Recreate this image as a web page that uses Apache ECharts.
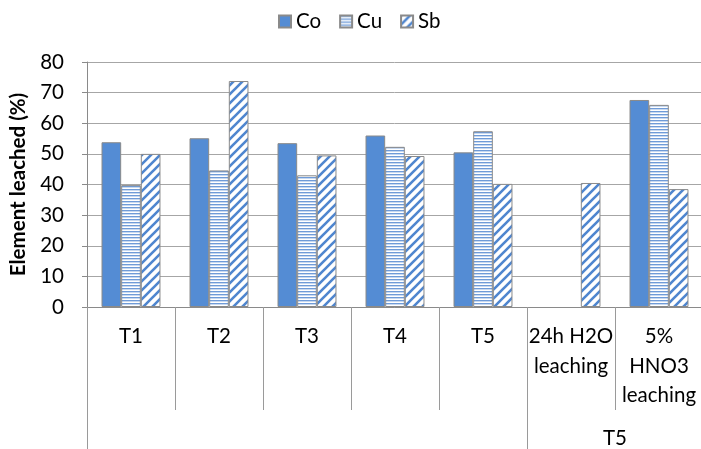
<!DOCTYPE html>
<html>
<head>
<meta charset="utf-8">
<script src="https://cdn.jsdelivr.net/npm/echarts@6/dist/echarts.min.js"></script>
<style>
  html, body { margin: 0; padding: 0; background: #fff; }
  #chart { width: 701px; height: 449px; }
</style>
</head>
<body>
<div id="chart"></div>
<script>
// Leaching experiments: percentage of each element leached
const categories = ['T1', 'T2', 'T3', 'T4', 'T5', '24h H2O\nleaching', '5%\nHNO3\nleaching'];
const coValues = [53.8, 55.1, 53.5, 56.0, 50.5, null, 67.6];
const cuValues = [39.8, 44.6, 43.0, 52.3, 57.4, null, 66.0];
const sbValues = [50.0, 73.8, 49.5, 49.3, 40.2, 40.5, 38.5];
const yTicks = [0, 10, 20, 30, 40, 50, 60, 70, 80];
// second-level grouping: label sits under the middle of the last two categories
const groupLabel = 'T5';
const groupBoundaries = [0, 5];
const groupLabelPos = [6];

const FONT = 'Lato, "Open Sans", sans-serif';
const FS = 20.5;
const BLUE = '#548cd4';
const BORDER = '#8a8a8a';

// horizontal pin-stripe fill
function horizontalStripes() {
  const c = document.createElement('canvas');
  c.width = 4; c.height = 3;
  const g = c.getContext('2d');
  g.fillStyle = '#ffffff'; g.fillRect(0, 0, 4, 3);
  g.fillStyle = '#6f9bd8'; g.fillRect(0, 0, 4, 1);
  g.fillStyle = '#c8d9f0'; g.fillRect(0, 1, 4, 1);
  return c;
}
// wide upward diagonal fill
function diagonalStripes() {
  const s = 9;
  const c = document.createElement('canvas');
  c.width = s; c.height = s;
  const g = c.getContext('2d');
  g.fillStyle = '#ffffff'; g.fillRect(0, 0, s, s);
  g.strokeStyle = '#4f86cf';
  g.lineWidth = 2.6;
  g.beginPath();
  g.moveTo(-1, s + 1); g.lineTo(s + 1, -1);
  g.moveTo(-s / 2 - 1, s / 2 + 1); g.lineTo(s / 2 + 1, -s / 2 - 1);
  g.moveTo(s / 2 - 1, s * 1.5 + 1); g.lineTo(s * 1.5 + 1, s / 2 - 1);
  g.stroke();
  return c;
}

const chart = echarts.init(document.getElementById('chart'), null, { renderer: 'canvas' });

const barStyle = (color) => ({ color: color, borderColor: BORDER, borderWidth: 1 });

chart.setOption({
  animation: false,
  textStyle: { fontFamily: FONT, color: '#000' },
  legend: {
    top: 6,
    left: 273,
    icon: 'rect',
    itemWidth: 12,
    itemHeight: 12,
    itemGap: 18,
    textStyle: { fontSize: FS, fontFamily: FONT, color: '#000' },
    data: ['Co', 'Cu', 'Sb']
  },
  grid: {
    left: 87, right: -2, top: 62, bottom: 142,
    containLabel: false,
    outerBoundsMode: 'none'
  },
  xAxis: [
    {
      type: 'category',
      data: categories,
      axisLine: { show: true, lineStyle: { color: BORDER, width: 1 } },
      axisTick: { show: true, interval: 0, length: 103, lineStyle: { color: '#9a9a9a', width: 1 } },
      axisLabel: {
        interval: 0,
        fontSize: FS,
        fontFamily: FONT,
        color: '#000',
        lineHeight: 29.5,
        margin: 15,
        verticalAlign: 'top'
      },
      splitLine: { show: false }
    },
    {
      type: 'value',
      min: 0,
      max: 7,
      position: 'bottom',
      axisLine: { show: false },
      splitLine: { show: false },
      axisTick: {
        show: true,
        length: 142,
        customValues: groupBoundaries,
        lineStyle: { color: '#9a9a9a', width: 1 }
      },
      axisLabel: {
        show: true,
        customValues: groupLabelPos,
        formatter: () => groupLabel,
        fontSize: FS,
        fontFamily: FONT,
        color: '#000',
        margin: 121
      }
    }
  ],
  yAxis: {
    type: 'value',
    min: yTicks[0],
    max: yTicks[yTicks.length - 1],
    interval: yTicks[1] - yTicks[0],
    name: 'Element leached (%)',
    nameLocation: 'middle',
    nameRotate: 90,
    nameGap: 54,
    nameTextStyle: { fontSize: FS, fontWeight: 'bold', fontFamily: FONT, color: '#000' },
    axisLine: { show: true, lineStyle: { color: BORDER, width: 1 } },
    axisTick: { show: true, length: 5, lineStyle: { color: BORDER } },
    axisLabel: { fontSize: FS, fontFamily: FONT, color: '#000', margin: 23 },
    splitLine: { show: true, lineStyle: { color: '#a6a6a6', width: 1 } }
  },
  series: [
    {
      name: 'Co', type: 'bar', xAxisIndex: 0, data: coValues,
      barGap: '0%', barCategoryGap: '33%',
      itemStyle: barStyle(BLUE)
    },
    {
      name: 'Cu', type: 'bar', xAxisIndex: 0, data: cuValues,
      barGap: '0%', barCategoryGap: '33%',
      itemStyle: barStyle({ image: horizontalStripes(), repeat: 'repeat' })
    },
    {
      name: 'Sb', type: 'bar', xAxisIndex: 0, data: sbValues,
      barGap: '0%', barCategoryGap: '33%',
      itemStyle: barStyle({ image: diagonalStripes(), repeat: 'repeat' })
    }
  ]
});
</script>
</body>
</html>
